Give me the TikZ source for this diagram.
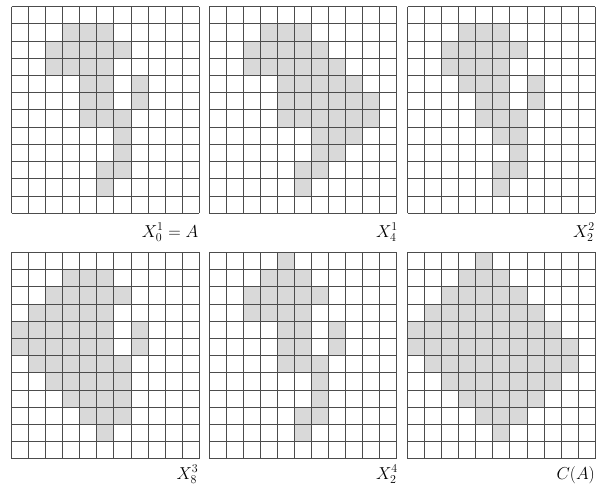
\documentclass[tikz,border=0pt]{standalone}
\usetikzlibrary{positioning}
\tikzset{
  cellfill/.style={fill=black!15,draw=none},
  gridline/.style={draw=black!70,line width=0.8pt},
  gridlabel/.style={font=\LARGE,anchor=base east,inner sep=0pt}
}
\begin{document}
\begin{tikzpicture}
\useasboundingbox (0,0) rectangle (596pt,488pt);

% X_0^1 = A
\begin{scope}[shift={(11.7pt,481.3pt)},x=17.03pt,y=-17.2pt]
\foreach \r/\cs in {1/{3,4,5},2/{2,...,6},3/{2,...,5},4/{4,5,7},5/{4,5,7},6/{4,5,6},7/{6},8/{6},9/{5,6},10/{5}}
  \foreach \c in \cs \fill[cellfill] (\c,\r) rectangle ++(1,1);
\foreach \i in {0,...,11} \draw[gridline] (\i,0) -- (\i,12);
\foreach \j in {0,...,12} \draw[gridline] (0,\j) -- (11,\j);
\end{scope}

% X_4^1
\begin{scope}[shift={(209.4pt,481.3pt)},x=17.03pt,y=-17.2pt]
\foreach \r/\cs in {1/{3,4,5},2/{2,...,6},3/{2,...,7},4/{4,...,8},5/{4,...,9},6/{4,...,9},7/{6,7,8},8/{6,7},9/{5,6},10/{5}}
  \foreach \c in \cs \fill[cellfill] (\c,\r) rectangle ++(1,1);
\foreach \i in {0,...,11} \draw[gridline] (\i,0) -- (\i,12);
\foreach \j in {0,...,12} \draw[gridline] (0,\j) -- (11,\j);
\end{scope}

% X_2^2
\begin{scope}[shift={(407.7pt,481.3pt)},x=17.03pt,y=-17.2pt]
\foreach \r/\cs in {1/{3,4,5},2/{2,...,6},3/{2,...,5},4/{3,4,5,7},5/{4,5,7},6/{4,5,6},7/{5,6},8/{6},9/{5,6},10/{5}}
  \foreach \c in \cs \fill[cellfill] (\c,\r) rectangle ++(1,1);
\foreach \i in {0,...,11} \draw[gridline] (\i,0) -- (\i,12);
\foreach \j in {0,...,12} \draw[gridline] (0,\j) -- (11,\j);
\end{scope}

% X_8^3
\begin{scope}[shift={(11.7pt,235.7pt)},x=17.03pt,y=-17.2pt]
\foreach \r/\cs in {1/{3,4,5},2/{2,...,6},3/{1,...,5},4/{0,1,2,3,4,5,7},5/{0,1,2,3,4,5,7},6/{1,...,6},7/{2,...,6},8/{3,...,6},9/{4,5,6},10/{5}}
  \foreach \c in \cs \fill[cellfill] (\c,\r) rectangle ++(1,1);
\foreach \i in {0,...,11} \draw[gridline] (\i,0) -- (\i,12);
\foreach \j in {0,...,12} \draw[gridline] (0,\j) -- (11,\j);
\end{scope}

% X_2^4
\begin{scope}[shift={(209.4pt,235.7pt)},x=17.03pt,y=-17.2pt]
\foreach \r/\cs in {0/{4},1/{3,4,5},2/{2,...,6},3/{2,...,5},4/{4,5,7},5/{4,5,7},6/{4,5,6},7/{6},8/{6},9/{5,6},10/{5}}
  \foreach \c in \cs \fill[cellfill] (\c,\r) rectangle ++(1,1);
\foreach \i in {0,...,11} \draw[gridline] (\i,0) -- (\i,12);
\foreach \j in {0,...,12} \draw[gridline] (0,\j) -- (11,\j);
\end{scope}

% C(A)
\begin{scope}[shift={(407.7pt,235.7pt)},x=17.03pt,y=-17.2pt]
\foreach \r/\cs in {0/{4},1/{3,4,5},2/{2,...,6},3/{1,...,7},4/{0,...,8},5/{0,...,9},6/{1,...,9},7/{2,...,8},8/{3,...,7},9/{4,5,6},10/{5}}
  \foreach \c in \cs \fill[cellfill] (\c,\r) rectangle ++(1,1);
\foreach \i in {0,...,11} \draw[gridline] (\i,0) -- (\i,12);
\foreach \j in {0,...,12} \draw[gridline] (0,\j) -- (11,\j);
\end{scope}

\node[gridlabel] (labA) at (198.5pt,251pt) {$X_0^1 = A$};
\node[gridlabel] (labXa) at (398pt,251pt) {$X_4^1$};
\node[gridlabel] (labXb) at (595pt,251pt) {$X_2^2$};
\node[gridlabel] (labXc) at (198.5pt,9pt) {$X_8^3$};
\node[gridlabel] (labXd) at (398pt,9pt) {$X_2^4$};
\node[gridlabel] (labC) at (595pt,9pt) {$C(A)$};

\end{tikzpicture}
\end{document}
